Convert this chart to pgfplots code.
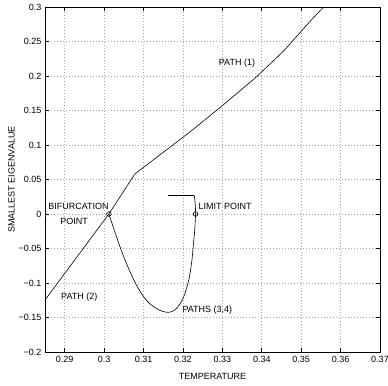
\documentclass[border=0pt]{standalone}
\usepackage{pgfplots}
\pgfplotsset{compat=1.18}
\usepackage{fontspec}
\setmainfont{Liberation Sans}
\begin{document}
\begin{tikzpicture}
\begin{axis}[
  scale only axis,
  width=335pt, height=345pt,
  xmin=0.285, xmax=0.37, ymin=-0.2, ymax=0.3,
  xtick={0.29,0.3,0.31,0.32,0.33,0.34,0.35,0.36,0.37},
  xticklabels={0.29,0.3,0.31,0.32,0.33,0.34,0.35,0.36,0.37},
  ytick={-0.2,-0.15,-0.1,-0.05,0,0.05,0.1,0.15,0.2,0.25,0.3},
  yticklabels={−0.2,−0.15,−0.1,−0.05,0,0.05,0.1,0.15,0.2,0.25,0.3},
  tick align=inside,
  major tick length=4pt,
  tick style={black, line width=0.6pt},
  axis line style={line width=0.9pt},
  grid=major,
  grid style={dash pattern=on 0.7pt off 2.3pt, gray!70, line width=0.6pt},
  ticklabel style={font=\fontsize{9}{10}\selectfont},
  xticklabel style={yshift=-1pt},
  label style={font=\fontsize{9}{10}\selectfont},
  xlabel={TEMPERATURE},
  ylabel={SMALLEST EIGENVALUE},
  xlabel style={at={(axis description cs:0.5,-0.07)}, anchor=center},
  ylabel style={at={(axis description cs:-0.1,0.5)}, anchor=center, rotate=0},
  clip=true,
]
\addplot[black, line width=0.6pt] coordinates {
 (0.285,-0.1246) (0.3012,0) (0.3078,0.058) (0.3218,0.119) (0.3302,0.158)
 (0.3387,0.199) (0.3455,0.236) (0.3527,0.282) (0.3557,0.3)
};
\addplot[black, line width=0.6pt, smooth, tension=0.6] coordinates {
 (0.3012,0) (0.3025,-0.022) (0.3040,-0.047) (0.3057,-0.072) (0.3074,-0.094)
 (0.3088,-0.109) (0.3103,-0.122) (0.3118,-0.131) (0.3133,-0.137)
 (0.3148,-0.141) (0.3163,-0.1425) (0.3177,-0.140) (0.3188,-0.134)
 (0.3198,-0.125) (0.3205,-0.115) (0.3213,-0.100) (0.3218,-0.086)
 (0.3223,-0.066) (0.3226,-0.047) (0.3230,-0.022)
 (0.3232,0.001) (0.3231,0.015) (0.3229,0.0265)
};
\addplot[black, line width=0.6pt] coordinates {
 (0.3229,0.0265) (0.3163,0.0265)
};
\addplot[only marks, mark=o, mark size=2.3pt, mark options={line width=0.6pt}, black] coordinates {
 (0.3012,0) (0.3232,0)
};
\node[font=\fontsize{9}{10}\selectfont] at (axis cs:0.3337,0.219) {PATH (1)};
\node[font=\fontsize{9}{10}\selectfont] at (axis cs:0.2937,-0.121) {PATH (2)};
\node[font=\fontsize{9}{10}\selectfont] at (axis cs:0.3262,-0.140) {PATHS (3,4)};
\node[font=\fontsize{9}{10}\selectfont] at (axis cs:0.3307,0.0106) {LIMIT POINT};
\node[font=\fontsize{9}{10}\selectfont] at (axis cs:0.2935,0.0106) {BIFURCATION};
\node[font=\fontsize{9}{10}\selectfont] at (axis cs:0.2924,-0.0100) {POINT};
\end{axis}
\pgfresetboundingbox
\path ([xshift=-45pt,yshift=-33pt]current axis.south west) rectangle ([xshift=8pt,yshift=7pt]current axis.north east);
\end{tikzpicture}
\end{document}
